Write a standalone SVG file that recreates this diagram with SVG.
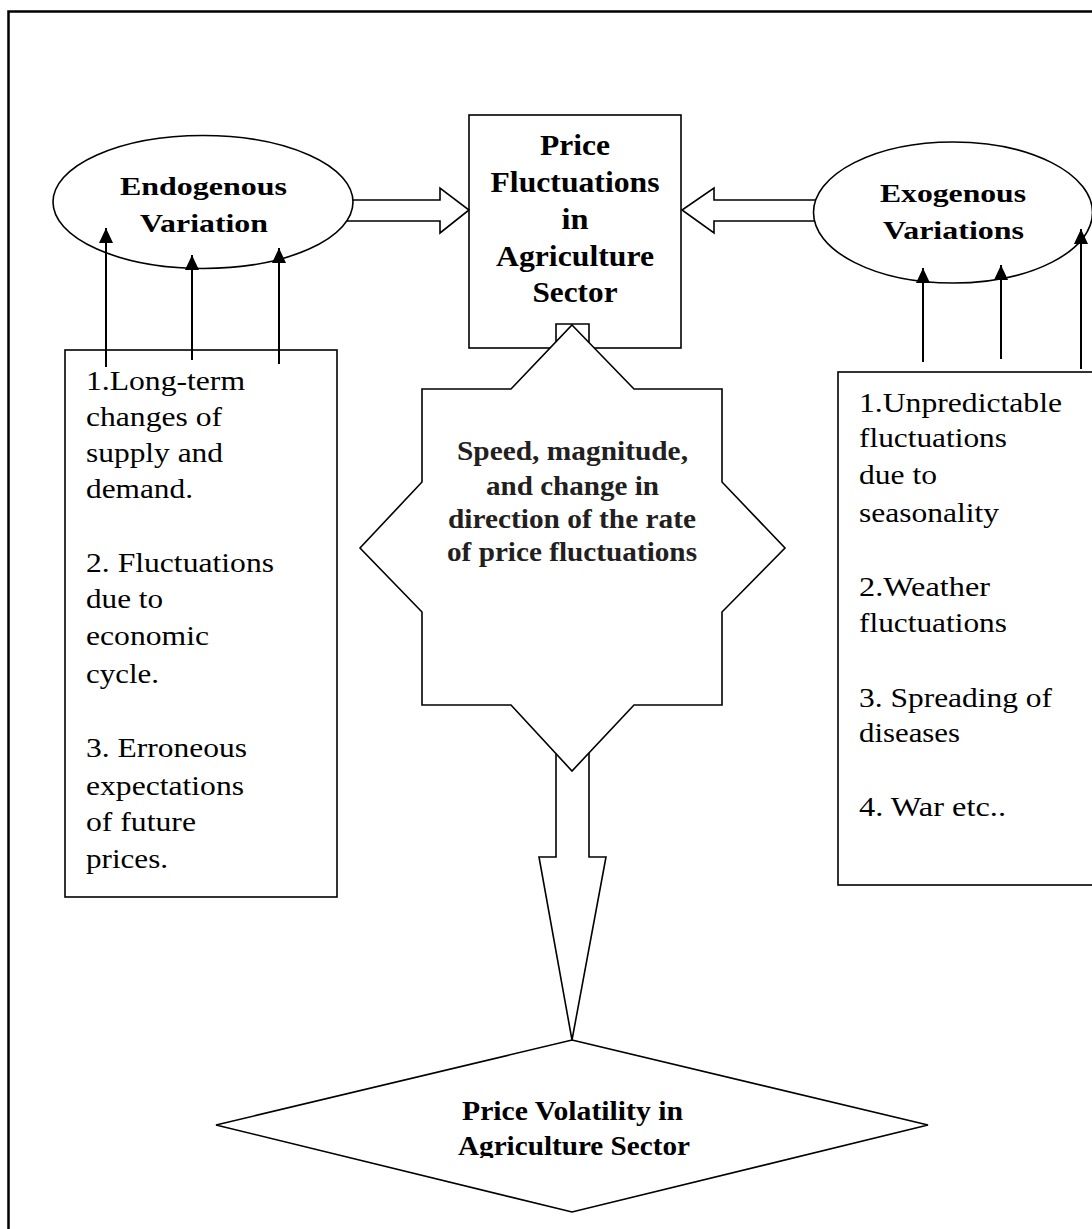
<svg xmlns="http://www.w3.org/2000/svg" width="1092" height="1229" viewBox="0 0 1092 1229">
  <style>
    .shape { fill: #ffffff; stroke: #000000; stroke-width: 1.6; }
    .open { fill: none; stroke: #000000; stroke-width: 1.6; stroke-linejoin: miter; }
    .line { fill: none; stroke: #000000; stroke-width: 2; }
    .bold { font-family: "Liberation Serif", "Times New Roman", Times, serif; font-weight: bold; font-size: 28px; fill: #000; text-anchor: middle; }
    .box { font-size: 30px; }
    .ell { font-size: 26px; }
    .small { font-size: 27px; }
    .star { fill: #231f20; }
    .reg { font-family: "Liberation Serif", "Times New Roman", Times, serif; font-size: 27px; fill: #000; }
  </style>
  <defs>
    <marker id="arr" markerUnits="userSpaceOnUse" markerWidth="15" markerHeight="14" refX="15" refY="7" orient="auto" viewBox="0 0 15 14" overflow="visible">
      <path d="M0,0 L15,7 L0,14 Z" fill="#000"/>
    </marker>
    <clipPath id="clipBottom">
      <rect x="0" y="0" width="1092" height="1158"/>
    </clipPath>
  </defs>

  <rect width="1092" height="1229" fill="#ffffff"/>

  <!-- outer frame -->
  <path d="M8.5,1240 V11.5 H1100" fill="none" stroke="#000" stroke-width="2.5"/>

  <!-- center box -->
  <g id="node-price-fluctuations">
    <rect class="shape" x="469" y="115" width="212" height="233"/>
    <text class="bold box" x="575" y="155" textLength="70" lengthAdjust="spacingAndGlyphs">Price</text>
    <text class="bold box" x="575" y="192" textLength="169" lengthAdjust="spacingAndGlyphs">Fluctuations</text>
    <text class="bold box" x="575" y="229" textLength="27" lengthAdjust="spacingAndGlyphs">in</text>
    <text class="bold box" x="575" y="266" textLength="158" lengthAdjust="spacingAndGlyphs">Agriculture</text>
    <text class="bold box" x="575" y="302" textLength="85" lengthAdjust="spacingAndGlyphs">Sector</text>
  </g>

  <!-- star -->
  <g id="node-star">
    <polygon class="shape" points="572,325 634,389 722,389 722,482 785,548 722,612 722,705 634,705 572,771 511,705 422,705 422,612 360,548 422,482 422,389 511,389"/>
    <text class="bold star" x="572.5" y="460" textLength="231" lengthAdjust="spacingAndGlyphs">Speed, magnitude,</text>
    <text class="bold star" x="572.5" y="495" textLength="173" lengthAdjust="spacingAndGlyphs">and change in</text>
    <text class="bold star" x="572" y="528" textLength="248" lengthAdjust="spacingAndGlyphs">direction of the rate</text>
    <text class="bold star" x="572" y="561" textLength="250" lengthAdjust="spacingAndGlyphs">of price fluctuations</text>
  </g>

  <!-- endogenous ellipse -->
  <g id="node-endogenous">
    <ellipse class="shape" cx="203" cy="202" rx="150" ry="66.5"/>
    <text class="bold ell" x="203.5" y="195" textLength="167" lengthAdjust="spacingAndGlyphs">Endogenous</text>
    <text class="bold ell" x="204" y="232" textLength="128" lengthAdjust="spacingAndGlyphs">Variation</text>
  </g>

  <!-- exogenous ellipse -->
  <g id="node-exogenous">
    <ellipse class="shape" cx="953" cy="212.5" rx="139.5" ry="70.5"/>
    <text class="bold ell" x="953" y="202" textLength="146" lengthAdjust="spacingAndGlyphs">Exogenous</text>
    <text class="bold ell" x="953.5" y="239" textLength="141" lengthAdjust="spacingAndGlyphs">Variations</text>
  </g>

  <!-- left list box -->
  <g id="node-endogenous-list">
    <rect class="shape" x="65" y="350" width="272" height="547"/>
    <text class="reg" x="86" y="390" textLength="159" lengthAdjust="spacingAndGlyphs">1.Long-term</text>
    <text class="reg" x="86" y="426" textLength="136" lengthAdjust="spacingAndGlyphs">changes of</text>
    <text class="reg" x="86" y="462" textLength="137" lengthAdjust="spacingAndGlyphs">supply and</text>
    <text class="reg" x="86" y="498" textLength="107" lengthAdjust="spacingAndGlyphs">demand.</text>
    <text class="reg" x="86" y="572" textLength="188" lengthAdjust="spacingAndGlyphs">2. Fluctuations</text>
    <text class="reg" x="86" y="608" textLength="77" lengthAdjust="spacingAndGlyphs">due to</text>
    <text class="reg" x="86" y="645" textLength="123" lengthAdjust="spacingAndGlyphs">economic</text>
    <text class="reg" x="86" y="683" textLength="73" lengthAdjust="spacingAndGlyphs">cycle.</text>
    <text class="reg" x="86" y="757" textLength="161" lengthAdjust="spacingAndGlyphs">3. Erroneous</text>
    <text class="reg" x="86" y="795" textLength="158" lengthAdjust="spacingAndGlyphs">expectations</text>
    <text class="reg" x="86" y="831" textLength="110" lengthAdjust="spacingAndGlyphs">of future</text>
    <text class="reg" x="86" y="868" textLength="82" lengthAdjust="spacingAndGlyphs">prices.</text>
  </g>

  <!-- right list box -->
  <g id="node-exogenous-list">
    <rect class="shape" x="838" y="372" width="270" height="513"/>
    <text class="reg" x="859" y="412" textLength="203" lengthAdjust="spacingAndGlyphs">1.Unpredictable</text>
    <text class="reg" x="859" y="447" textLength="148" lengthAdjust="spacingAndGlyphs">fluctuations</text>
    <text class="reg" x="859" y="484" textLength="78" lengthAdjust="spacingAndGlyphs">due to</text>
    <text class="reg" x="859" y="522" textLength="140" lengthAdjust="spacingAndGlyphs">seasonality</text>
    <text class="reg" x="859" y="596" textLength="131" lengthAdjust="spacingAndGlyphs">2.Weather</text>
    <text class="reg" x="859" y="632" textLength="148" lengthAdjust="spacingAndGlyphs">fluctuations</text>
    <text class="reg" x="859" y="707" textLength="193" lengthAdjust="spacingAndGlyphs">3. Spreading of</text>
    <text class="reg" x="859" y="742" textLength="101" lengthAdjust="spacingAndGlyphs">diseases</text>
    <text class="reg" x="859" y="816" textLength="147" lengthAdjust="spacingAndGlyphs">4. War etc..</text>
  </g>

  <!-- bottom diamond -->
  <g id="node-volatility">
    <polygon class="shape" points="572,1040 928,1125 572,1212 216,1125"/>
    <g clip-path="url(#clipBottom)">
      <text class="bold small" x="572.5" y="1120" textLength="221" lengthAdjust="spacingAndGlyphs">Price Volatility in</text>
      <text class="bold small" x="574" y="1155" textLength="232" lengthAdjust="spacingAndGlyphs">Agriculture Sector</text>
    </g>
  </g>

  <!-- connectors -->
  <g id="connectors">
    <path class="open" d="M352.9,200 H440 V188 L469,210 L440,233 V221 H346.8"/>
    <path class="open" d="M815.7,200 H714 V188 L682,210 L714,233 V221 H814.5"/>
    <path class="open" d="M556,341.8 V324 H589 V342.5"/>
    <path class="open" d="M556,753.7 V857 H539 L572,1040 L606,857 H589 V752.9"/>
    <line class="line" x1="106" y1="367" x2="106" y2="228" marker-end="url(#arr)"/>
    <line class="line" x1="192" y1="360" x2="192" y2="255" marker-end="url(#arr)"/>
    <line class="line" x1="279" y1="364" x2="279" y2="248" marker-end="url(#arr)"/>
    <line class="line" x1="923" y1="362" x2="923" y2="268" marker-end="url(#arr)"/>
    <line class="line" x1="1001" y1="359" x2="1001" y2="265" marker-end="url(#arr)"/>
    <line class="line" x1="1081" y1="369" x2="1081" y2="229" marker-end="url(#arr)"/>
  </g>
</svg>
